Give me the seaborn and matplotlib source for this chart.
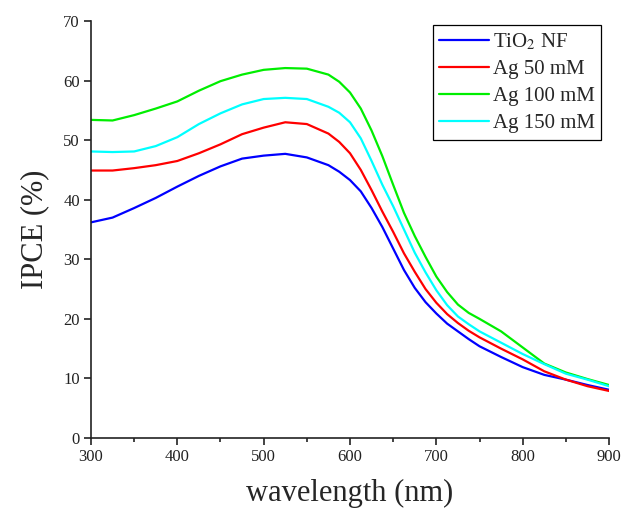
import matplotlib
matplotlib.use("Agg")
import matplotlib.pyplot as plt
from matplotlib.ticker import MultipleLocator
import numpy as np
import pandas as pd
import seaborn as sns

# Wavelength grid (nm); denser sampling across the steep fall-off
wavelength = [300, 325, 350, 375, 400, 425, 450, 475, 500, 525, 550, 575,
              587.5, 600, 612.5, 625, 637.5, 650, 662.5, 675, 687.5, 700, 712.5,
              725, 737.5, 750, 775, 800, 825, 850, 875, 900]

# IPCE (%) for each sample
ipce_tio2 = [36.2, 37.0, 38.6, 40.3, 42.2, 44.0, 45.6, 46.9, 47.4, 47.7, 47.1, 45.8,
             44.7, 43.3, 41.4, 38.6, 35.4, 31.8, 28.2, 25.2, 22.8, 20.9, 19.2,
             17.9, 16.6, 15.4, 13.6, 11.9, 10.6, 9.8, 8.9, 8.1]
ipce_ag50 = [44.9, 44.9, 45.3, 45.8, 46.5, 47.8, 49.3, 51.0, 52.1, 53.0, 52.7, 51.1,
             49.7, 47.8, 45.0, 41.6, 38.0, 34.6, 31.0, 27.9, 25.0, 22.7, 20.8,
             19.3, 18.0, 16.9, 15.0, 13.2, 11.2, 9.8, 8.7, 7.9]
ipce_ag100 = [53.4, 53.3, 54.2, 55.3, 56.5, 58.3, 59.9, 61.0, 61.8, 62.1, 62.0, 61.0,
              59.8, 58.0, 55.3, 51.6, 47.3, 42.5, 37.8, 33.9, 30.4, 27.1, 24.5,
              22.4, 21.0, 20.0, 17.9, 15.2, 12.5, 11.0, 9.9, 8.9]
ipce_ag150 = [48.1, 48.0, 48.1, 49.0, 50.5, 52.7, 54.5, 56.0, 56.9, 57.1, 56.9, 55.6,
              54.6, 53.0, 50.3, 46.5, 42.5, 38.9, 35.0, 31.1, 27.8, 24.8, 22.3,
              20.4, 19.1, 17.9, 16.0, 14.1, 12.4, 10.8, 9.8, 8.7]

labels = ["TiO$_2$ NF", "Ag 50 mM", "Ag 100 mM", "Ag 150 mM"]
colors = ["#0000ff", "#ff0000", "#00ee00", "#00ffff"]

frames = []
for lab, vals in zip(labels, [ipce_tio2, ipce_ag50, ipce_ag100, ipce_ag150]):
    frames.append(pd.DataFrame({"wavelength": wavelength, "IPCE": vals, "sample": lab}))
df = pd.concat(frames, ignore_index=True)

sns.set_style("ticks")
plt.rcParams["font.family"] = ["Liberation Serif", "DejaVu Serif"]
plt.rcParams["mathtext.fontset"] = "stix"

fig = plt.figure(figsize=(6.24, 5.12), dpi=100)
ax = fig.add_axes([0.1458, 0.1445, 0.8302, 0.8145])

sns.lineplot(data=df, x="wavelength", y="IPCE", hue="sample",
             palette=dict(zip(labels, colors)), hue_order=labels,
             linewidth=1.6, ax=ax)

ax.set_xlim(300, 900)
ax.set_ylim(0, 70)
ax.xaxis.set_major_locator(MultipleLocator(100))
ax.xaxis.set_minor_locator(MultipleLocator(50))
ax.yaxis.set_major_locator(MultipleLocator(10))

for side in ["top", "right"]:
    ax.spines[side].set_visible(False)
for side in ["left", "bottom"]:
    ax.spines[side].set_linewidth(1.2)
    ax.spines[side].set_color("#222222")

ax.tick_params(axis="both", which="major", direction="out", length=5, width=1.2,
               labelsize=12, colors="#222222", pad=3)
ax.tick_params(axis="x", which="minor", direction="out", length=3, width=1.2,
               colors="#222222")

ax.set_xlabel("wavelength (nm)", fontsize=22, labelpad=10)
ax.set_ylabel("IPCE (%)", fontsize=22, labelpad=10)

leg = ax.legend(loc="upper right", bbox_to_anchor=(0.985, 0.99), fontsize=15,
                frameon=True, fancybox=False, framealpha=1, edgecolor="black",
                handlelength=2.4, handletextpad=0.2, labelspacing=0.36,
                borderpad=0.3, borderaxespad=0)
leg.get_frame().set_linewidth(0.9)
for line in leg.get_lines():
    line.set_linewidth(1.6)

fig.savefig("out.png", dpi=100)
